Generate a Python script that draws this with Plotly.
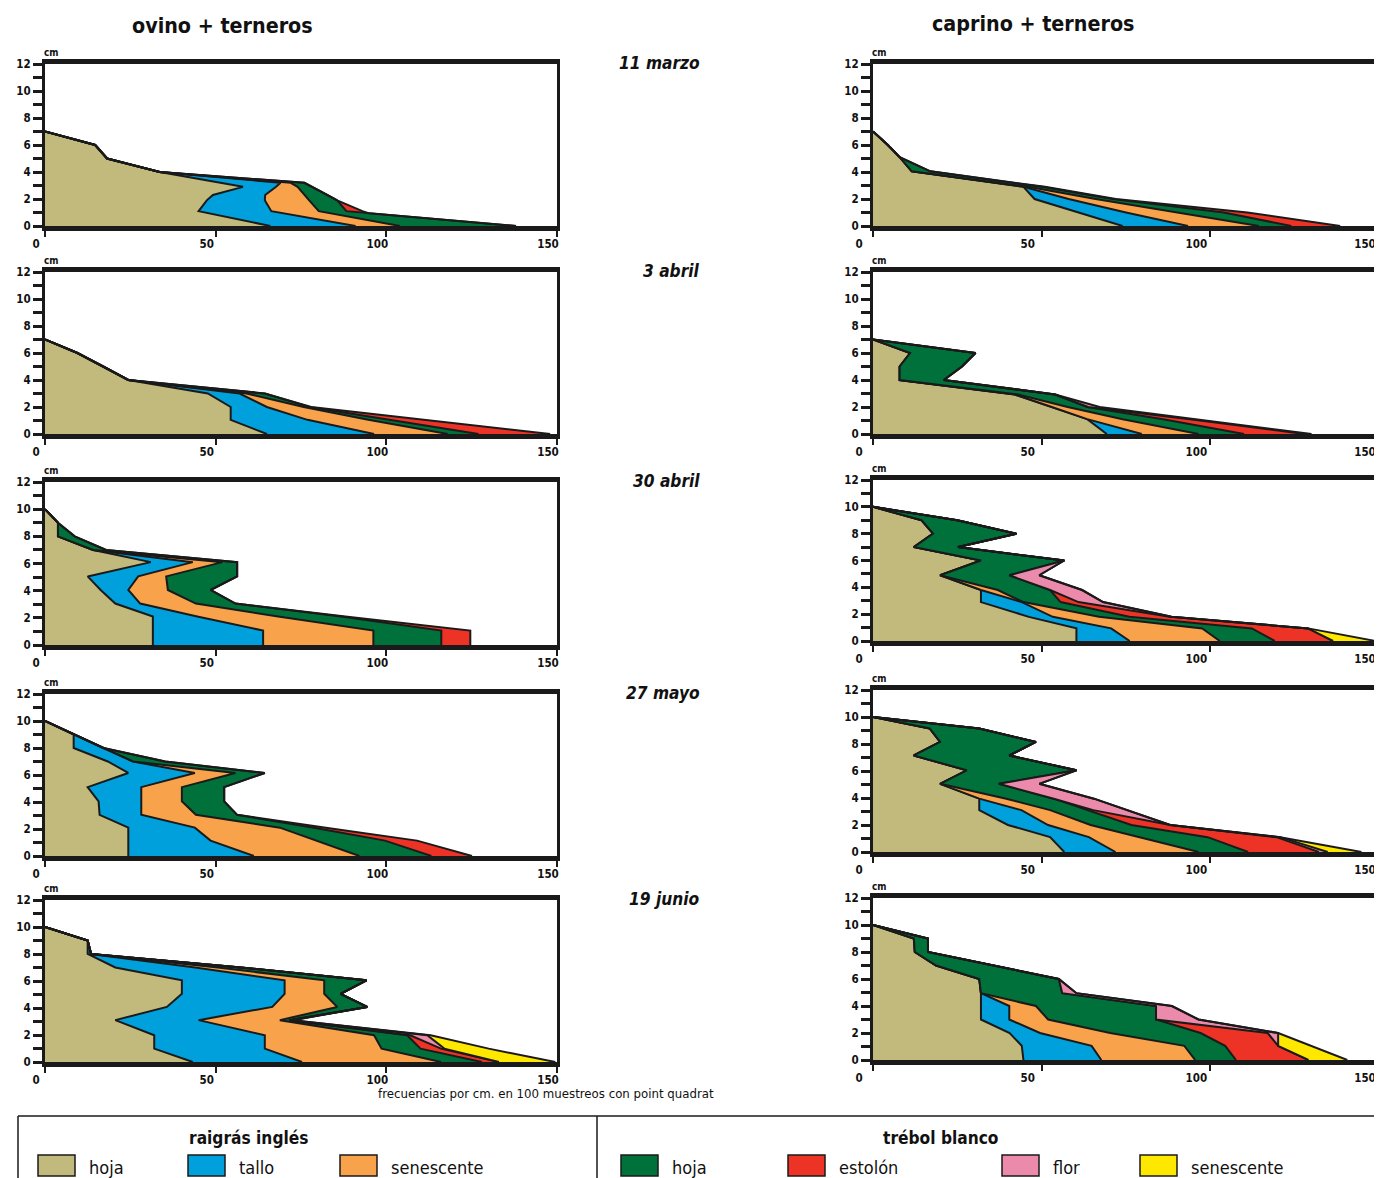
import subprocess
import glob
import numpy as np
import plotly.graph_objects as go

PAGE_MARGIN = 8  # default <body> margin of the html page
W, H = 1382 + PAGE_MARGIN, 1178 + PAGE_MARGIN


def _font_available(name):
    try:
        out = subprocess.run(["fc-list", ":", "family"], capture_output=True,
                             text=True, timeout=10).stdout
        return name in out
    except Exception:
        key = name.replace(" ", "")
        return any(key in f for f in glob.glob("/usr/share/fonts/**/*", recursive=True))


if _font_available("Liberation Sans Narrow"):
    FONT, FS = "Liberation Sans Narrow", 1.0
elif _font_available("DejaVu Sans Condensed"):
    FONT, FS = "DejaVu Sans Condensed", 0.82
else:
    FONT, FS = "Liberation Sans", 0.86

# ---------------- data: frequency per cm height (100 point-quadrat samples) ----------
COMPONENTS = ["rg_hoja", "rg_tallo", "rg_sen", "tb_hoja", "tb_est", "tb_flor", "tb_sen"]
COLORS = {
    "rg_hoja": "#C2B97C", "rg_tallo": "#00A0DC", "rg_sen": "#F8A34C",
    "tb_hoja": "#00713A", "tb_est": "#EC3326", "tb_flor": "#EB8AAB", "tb_sen": "#FFE800",
}
LEGEND_LABELS = {
    "rg_hoja": "hoja", "rg_tallo": "tallo", "rg_sen": "senescente",
    "tb_hoja": "hoja", "tb_est": "estolón", "tb_flor": "flor", "tb_sen": "senescente",
}
DATES = ["11 marzo", "3 abril", "30 abril", "27 mayo", "19 junio"]
GROUPS = ["ovino + terneros", "caprino + terneros"]
X_TICKS = [0, 50, 100, 150]
Y_TICKS = [0, 2, 4, 6, 8, 10, 12]
Y_MINOR = [1, 3, 5, 7, 9, 11]

ovino_11marzo = dict(
    altura=[0, 0.95, 1.1, 1.9, 2.3, 2.9, 3.2, 4, 5, 6, 7],
    rg_hoja=[66, 47.8, 45, 47.4, 49.2, 58, 51, 33.6, 18.2, 14.7, 0],
    rg_tallo=[25, 21.9, 21.3, 17, 15.3, 9.7, 18, 0, 0, 0, 0],
    rg_sen=[13, 13, 13.9, 13, 11.5, 6.3, 3, 0, 0, 0, 0],
    tb_hoja=[34, 12.1, 8.1, 8.2, 6.7, 4.3, 4, 0, 0, 0, 0],
    tb_est=[0, 0, 4.7, 0, 0, 0, 0, 0, 0, 0, 0],
)
caprino_11marzo = dict(
    altura=[0, 1, 2, 2.9, 4.05, 5.1, 6, 7],
    rg_hoja=[74, 61.2, 47.9, 44.6, 11.5, 7.9, 4.4, 0],
    rg_tallo=[19.4, 13.8, 10.1, 0, 0, 0, 0, 0],
    rg_sen=[21, 15, 8, 1.4, 0, 0, 0, 0],
    tb_hoja=[9.6, 14, 5, 4, 5.5, 0, 0, 0],
    tb_est=[14.5, 7, 1, 1, 0, 0, 0, 0],
)
ovino_3abril = dict(
    altura=[0, 1.05, 2, 3, 4, 5, 6, 7],
    rg_hoja=[65, 54.4, 54.4, 47.7, 24.4, 17.1, 9.5, 0],
    rg_tallo=[31.4, 22.5, 10.6, 9.3, 0, 0, 0, 0],
    rg_sen=[21.6, 17.8, 10.8, 2, 0, 0, 0, 0],
    tb_hoja=[9, 6, 1.7, 5.4, 0, 0, 0, 0],
    tb_est=[21, 10.5, 0.5, 0, 0, 0, 0, 0],
)
caprino_3abril = dict(
    altura=[0, 1.1, 2, 2.93, 4, 5, 6, 7],
    rg_hoja=[69.3, 63.5, 53, 42, 7.9, 7.9, 11, 0],
    rg_tallo=[10.4, 0, 0, 0, 0, 0, 0, 0],
    rg_sen=[16.8, 10.5, 4.7, 1, 0, 0, 0, 0],
    tb_hoja=[13.5, 12, 5.8, 11, 13.1, 18.5, 19.4, 0],
    tb_est=[18, 8, 0.3, 0, 0, 0, 0, 0],
    tb_flor=[2, 1.6, 3.4, 0, 0, 0, 0, 0],
)
ovino_30abril = dict(
    altura=[0, 1.06, 2.1, 3.05, 4.05, 5.05, 6.1, 7, 8, 9, 10],
    rg_hoja=[31.6, 31.6, 31.6, 20.6, 16.3, 12.5, 31, 14.1, 3.8, 3.8, 0],
    rg_tallo=[32.3, 32.3, 13, 7.3, 8.1, 14.8, 12.3, 0, 0, 0, 0],
    rg_sen=[32.3, 32.3, 23.7, 16.3, 11.6, 8.2, 8.7, 0, 0, 0, 0],
    tb_hoja=[19.9, 19.9, 18.4, 11.6, 12.5, 20.8, 4.3, 3.8, 4.9, 0, 0],
    tb_est=[8.5, 8.5, 1.3, 0, 0, 0, 0, 0, 0, 0, 0],
)
caprino_30abril = dict(
    altura=[0, 0.94, 1.8, 2.9, 3.8, 4.9, 6, 7, 8, 9, 10],
    rg_hoja=[60.3, 60.3, 46.2, 32, 32, 19.9, 32, 12.1, 17.8, 14.4, 0],
    rg_tallo=[15.8, 10.3, 7.1, 12.1, 0, 0, 0, 0, 0, 0, 0],
    rg_sen=[26.7, 27, 13.7, 0.5, 5, 0, 0, 0, 0, 0, 0],
    tb_hoja=[16.3, 14.7, 9, 11, 15.5, 20.5, 24.7, 13.1, 24.7, 10.6, 0],
    tb_est=[17.3, 16.7, 12, 5.3, 0, 0, 0, 0, 0, 0, 0],
    tb_flor=[0, 0, 0.5, 7.3, 9.5, 8.9, 0, 0, 0, 0, 0],
    tb_sen=[12.6, 0, 0, 0, 0, 0, 0, 0, 0, 0, 0],
)
ovino_27mayo = dict(
    altura=[0, 1.14, 2.1, 3.05, 4.05, 5.1, 6.15, 7, 8, 9, 10],
    rg_hoja=[24.4, 24.4, 24.4, 16, 15.7, 12.5, 24.4, 18.4, 8.4, 8.4, 0],
    rg_tallo=[36.8, 24.1, 19.5, 12.2, 12.5, 15.7, 19.5, 7.4, 8.7, 0, 0],
    rg_sen=[30.9, 31, 24.9, 16, 11.9, 11.9, 11.9, 0, 0, 0, 0],
    tb_hoja=[21.1, 20.1, 10, 12.1, 12.4, 12.4, 8.6, 9.4, 0, 0, 0],
    tb_est=[11.9, 9.4, 3.5, 0, 0, 0, 0, 0, 0, 0, 0],
)
caprino_27mayo = dict(
    altura=[0, 1.1, 2, 3.1, 3.95, 5.05, 6.05, 7.15, 8.15, 9.15, 10],
    rg_hoja=[56.7, 52.5, 40, 31.5, 31.5, 19.9, 27.8, 12.1, 19.9, 16.8, 0],
    rg_tallo=[15.2, 11.5, 11.9, 12.5, 0, 0, 0, 0, 0, 0, 0],
    rg_sen=[24.6, 14.7, 12.6, 8.5, 8, 0, 0, 0, 0, 0, 0],
    tb_hoja=[14.7, 20.5, 12.1, 11.5, 14.1, 17.4, 32.5, 28.3, 28.4, 14.7, 0],
    tb_est=[21, 20.4, 11.5, 1.3, 0, 0, 0, 0, 0, 0, 0],
    tb_flor=[2.6, 1.1, 0, 10.2, 11.9, 12, 0, 0, 0, 0, 0],
    tb_sen=[10, 0, 0, 0, 0, 0, 0, 0, 0, 0, 0],
)
ovino_19junio = dict(
    altura=[0, 0.99, 1.98, 3.1, 4.08, 5.05, 6.05, 7, 8, 9, 10],
    rg_hoja=[43.3, 32, 32, 20.6, 35.7, 40.1, 40.1, 20.6, 12.5, 12.5, 0],
    rg_tallo=[32, 32.4, 32.4, 24.4, 30.9, 30.1, 30.1, 23.4, 1, 0, 0],
    rg_sen=[40.7, 34.2, 32, 23.8, 19, 11.6, 11.6, 6.6, 0, 0, 0],
    tb_hoja=[12, 11.4, 9.7, 2.7, 8.8, 4.8, 12.4, 6.8, 0, 0, 0],
    tb_est=[5, 6, 0.9, 0, 0, 0, 0, 0, 0, 0, 0],
    tb_flor=[0, 1, 5, 1, 0, 0, 0, 0, 0, 0, 0],
    tb_sen=[16.5, 13, 1, 0, 0, 0, 0, 0, 0, 0, 0],
)
caprino_19junio = dict(
    altura=[0, 1.05, 2, 3, 4, 4.95, 6, 7, 8, 9, 10],
    rg_hoja=[44.6, 44.1, 40.5, 32, 32, 32, 31.5, 18.7, 12.4, 12.1, 0],
    rg_tallo=[23.1, 20.7, 9, 8.4, 8.4, 0, 0, 0, 0, 0, 0],
    rg_sen=[27.8, 27.5, 20.8, 11.5, 7.9, 0, 0, 0, 0, 0, 0],
    tb_hoja=[12.1, 12.1, 26.8, 32, 35.6, 24.1, 23.6, 17.1, 3.9, 4.2, 0],
    tb_est=[21.5, 15.7, 19.9, 0, 0, 0, 0, 0, 0, 0, 0],
    tb_flor=[0, 0, 3.1, 12.6, 4.7, 4.2, 0, 0, 0, 0, 0],
    tb_sen=[11.5, 9.9, 0, 0, 0, 0, 0, 0, 0, 0, 0],
)

PANELS = [
    (ovino_11marzo, caprino_11marzo),
    (ovino_3abril, caprino_3abril),
    (ovino_30abril, caprino_30abril),
    (ovino_27mayo, caprino_27mayo),
    (ovino_19junio, caprino_19junio),
]

# ---------------- layout geometry (screen pixels) ----------------
COL_X = [(45, 557), (873, 1379)]
COL_LABEL_SHIFT = [-9, -14]
ROW_Y = [
    [(64, 226), (64, 226)],
    [(272, 434), (272, 434)],
    [(482, 645), (480, 641)],
    [(694, 856), (690, 852)],
    [(900, 1062), (898, 1060)],
]


def px(x):
    return (x - PAGE_MARGIN) / W


def py(y):
    return 1 - (y - PAGE_MARGIN) / H


def fsz(s):
    return round(s * FS, 1)


fig = go.Figure()
layout = dict(
    template="none",
    width=W, height=H, margin=dict(l=0, r=0, t=0, b=0, autoexpand=False),
    paper_bgcolor="white", plot_bgcolor="white", showlegend=False,
    font=dict(family=FONT, color="#111111"),
)
annotations = []
shapes = []
INK = "#1a1a1a"
TXT = "#111111"

idx = 0
for r, row in enumerate(PANELS):
    for c, panel in enumerate(row):
        idx += 1
        xa = "x" if idx == 1 else f"x{idx}"
        ya = "y" if idx == 1 else f"y{idx}"
        altura = panel["altura"]
        cum = np.zeros(len(altura))
        first = True
        for comp in COMPONENTS:
            if comp not in panel:
                continue
            vals = np.array(panel[comp], dtype=float)
            cum = cum + vals
            fig.add_trace(go.Scatter(
                x=cum.copy(), y=altura, mode="lines",
                line=dict(color=INK, width=2),
                fill="tozerox" if first else "tonextx",
                fillcolor=COLORS[comp],
                xaxis=xa, yaxis=ya, hoverinfo="skip",
            ))
            first = False
        x0, x1 = COL_X[c]
        ytop, ybot = ROW_Y[r][c]
        layout["xaxis" if idx == 1 else f"xaxis{idx}"] = dict(
            domain=[px(x0), px(x1)], range=[0, 150], anchor=ya, automargin=False,
            showgrid=False, zeroline=False, showline=True, linewidth=5,
            linecolor=INK, mirror=True, tickvals=X_TICKS, ticks="outside",
            ticklen=6, tickwidth=2, tickcolor=INK, ticklabelshift=COL_LABEL_SHIFT[c],
            ticklabelstandoff=-3,
            tickfont=dict(family=FONT, size=fsz(14), weight=700, color=TXT),
        )
        layout["yaxis" if idx == 1 else f"yaxis{idx}"] = dict(
            domain=[py(ybot), py(ytop)], range=[0, 12], anchor=xa, automargin=False,
            showgrid=False, zeroline=False, showline=True, linewidth=3,
            linecolor=INK, mirror=True, tickvals=Y_TICKS, ticks="outside",
            ticklen=9, tickwidth=2.5, tickcolor=INK,
            minor=dict(tickvals=Y_MINOR, ticks="outside", ticklen=9,
                       tickwidth=2.5, tickcolor=INK, showgrid=False),
            tickfont=dict(family=FONT, size=fsz(14), weight=700, color=TXT),
        )
        annotations.append(dict(
            x=px(x0 - 3), y=py(ytop - 4), xref="paper", yref="paper",
            text="<b>cm</b>", showarrow=False, xanchor="left", yanchor="bottom",
            font=dict(family=FONT, size=fsz(12), color=TXT),
        ))
    annotations.append(dict(
        x=px(702), y=py(ROW_Y[r][0][0] - 1), xref="paper", yref="paper",
        text=f"<b><i>{DATES[r]}</i></b>", showarrow=False,
        xanchor="right", yanchor="middle",
        font=dict(family=FONT, size=fsz(21), color=TXT),
    ))

# group titles
annotations.append(dict(x=px(222), y=py(26), xref="paper", yref="paper",
                        text=f"<b>{GROUPS[0]}</b>", showarrow=False,
                        xanchor="center", yanchor="middle",
                        font=dict(family=FONT, size=fsz(26), color=TXT)))
annotations.append(dict(x=px(1033), y=py(23), xref="paper", yref="paper",
                        text=f"<b>{GROUPS[1]}</b>", showarrow=False,
                        xanchor="center", yanchor="middle",
                        font=dict(family=FONT, size=fsz(26), color=TXT)))
# axis caption
annotations.append(dict(x=px(546), y=py(1093), xref="paper", yref="paper",
                        text="frecuencias por cm. en 100 muestreos con point quadrat",
                        showarrow=False, xanchor="center", yanchor="middle",
                        font=dict(family=FONT, size=fsz(16), color=TXT)))

# legend box
shapes.append(dict(type="line", xref="paper", yref="paper", x0=px(18), x1=px(1390),
                   y0=py(1116), y1=py(1116), line=dict(color=INK, width=1.5)))
shapes.append(dict(type="line", xref="paper", yref="paper", x0=px(18), x1=px(18),
                   y0=py(1116), y1=py(1186), line=dict(color=INK, width=1.5)))
shapes.append(dict(type="line", xref="paper", yref="paper", x0=px(597), x1=px(597),
                   y0=py(1116), y1=py(1186), line=dict(color=INK, width=1.5)))
annotations.append(dict(x=px(249), y=py(1138), xref="paper", yref="paper",
                        text="<b>raigrás inglés</b>", showarrow=False,
                        xanchor="center", yanchor="middle",
                        font=dict(family=FONT, size=fsz(21), color=TXT)))
annotations.append(dict(x=px(940), y=py(1138), xref="paper", yref="paper",
                        text="<b>trébol blanco</b>", showarrow=False,
                        xanchor="center", yanchor="middle",
                        font=dict(family=FONT, size=fsz(21), color=TXT)))
SWATCH_X = {"rg_hoja": 38, "rg_tallo": 188, "rg_sen": 340, "tb_hoja": 621,
            "tb_est": 788, "tb_flor": 1002, "tb_sen": 1140}
for comp in COMPONENTS:
    sx = SWATCH_X[comp]
    shapes.append(dict(type="rect", xref="paper", yref="paper",
                       x0=px(sx), x1=px(sx + 37), y0=py(1176), y1=py(1155),
                       fillcolor=COLORS[comp], line=dict(color=INK, width=1.5)))
    annotations.append(dict(x=px(sx + 49), y=py(1167), xref="paper", yref="paper",
                            text=LEGEND_LABELS[comp], showarrow=False,
                            xanchor="left", yanchor="middle",
                            font=dict(family=FONT, size=fsz(22), color=TXT)))

layout["annotations"] = annotations
layout["shapes"] = shapes
fig.update_layout(**layout)
fig.write_html("out.html")
